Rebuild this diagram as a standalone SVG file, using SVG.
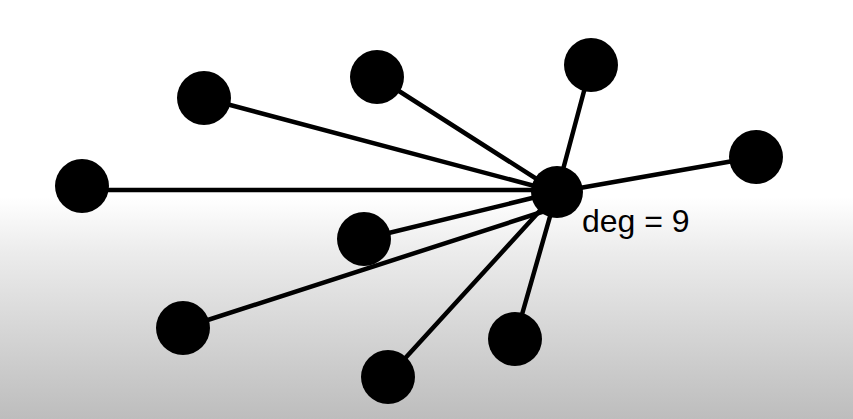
<svg xmlns="http://www.w3.org/2000/svg" width="853" height="419" viewBox="0 0 853 419">
<defs>
<linearGradient id="bg" x1="0" y1="0" x2="0" y2="1">
<stop offset="0" stop-color="#ffffff"/>
<stop offset="0.47" stop-color="#ffffff"/>
<stop offset="0.6" stop-color="#ececec"/>
<stop offset="1" stop-color="#bdbdbd"/>
</linearGradient>
<style>
.edge{stroke:#000;stroke-width:4.5;stroke-linecap:round}
.node{fill:#000}
.lbl{font-family:"Liberation Sans",Arial,sans-serif;font-size:32px;fill:#000}
</style>
</defs>
<rect x="0" y="0" width="853" height="419" fill="url(#bg)"/>
<g id="connectors">
<line class="edge" x1="557" y1="190" x2="82" y2="190"/>
<line class="edge" x1="557" y1="192" x2="204" y2="98"/>
<line class="edge" x1="557" y1="192" x2="377" y2="77"/>
<line class="edge" x1="557" y1="192" x2="591" y2="65"/>
<line class="edge" x1="557" y1="192" x2="756" y2="157"/>
<line class="edge" x1="557" y1="192" x2="364" y2="239"/>
<line class="edge" x1="548" y1="210" x2="183" y2="328"/>
<line class="edge" x1="557" y1="192" x2="388" y2="377"/>
<line class="edge" x1="557" y1="192" x2="515" y2="339"/>
</g>
<g id="n0"><circle class="node" cx="557" cy="192" r="26"/><text class="lbl" x="582" y="232">deg = 9</text></g>
<g id="n1"><circle class="node" cx="82" cy="186" r="27"/></g>
<g id="n2"><circle class="node" cx="204" cy="98" r="27"/></g>
<g id="n3"><circle class="node" cx="377" cy="77" r="27"/></g>
<g id="n4"><circle class="node" cx="591" cy="65" r="27"/></g>
<g id="n5"><circle class="node" cx="756" cy="157" r="27"/></g>
<g id="n6"><circle class="node" cx="364" cy="239" r="27"/></g>
<g id="n7"><circle class="node" cx="183" cy="328" r="27"/></g>
<g id="n8"><circle class="node" cx="388" cy="377" r="27"/></g>
<g id="n9"><circle class="node" cx="515" cy="339" r="27"/></g>
</svg>
